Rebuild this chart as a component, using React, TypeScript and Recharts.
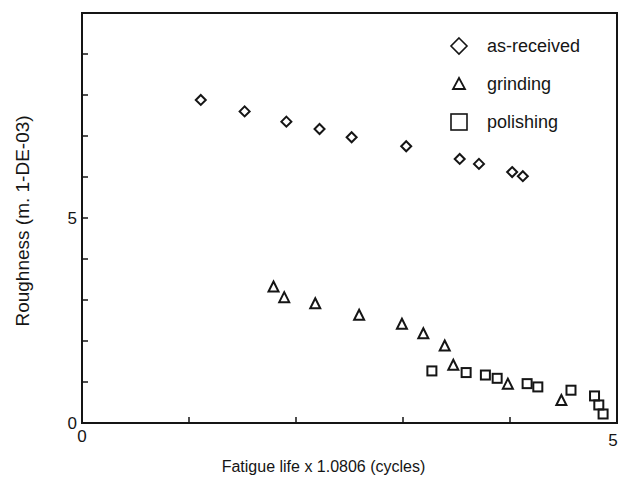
import React from "react";
import {
  ScatterChart,
  Scatter,
  XAxis,
  YAxis,
  ReferenceArea,
  Legend,
} from "recharts";

// values
const asReceivedX = [1.11, 1.52, 1.91, 2.22, 2.52, 3.03, 3.53, 3.71, 4.02, 4.12];
const asReceivedY = [7.88, 7.6, 7.35, 7.17, 6.97, 6.75, 6.44, 6.32, 6.12, 6.02];

const grindingX = [1.79, 1.89, 2.18, 2.59, 2.99, 3.19, 3.39, 3.47, 3.98, 4.48];
const grindingY = [3.33, 3.07, 2.92, 2.64, 2.42, 2.19, 1.89, 1.42, 0.96, 0.56];

const polishingX = [3.27, 3.59, 3.77, 3.88, 4.16, 4.26, 4.57, 4.79, 4.83, 4.87];
const polishingY = [1.27, 1.23, 1.17, 1.09, 0.96, 0.88, 0.8, 0.66, 0.44, 0.22];

const xTicks = [0, 1, 2, 3, 4, 5];
const yTicks = [0, 1, 2, 3, 4, 5, 6, 7, 8, 9, 10];
const labelledTicks = [0, 5];

const seriesNames = ["as-received", "grinding", "polishing"];

const toPoints = (xs: number[], ys: number[]) =>
  xs.map((x, i) => ({ x, y: ys[i] }));

const INK = "#151515";
const FONT = "'Liberation Sans', Arial, Helvetica, sans-serif";

function Diamond({ cx, cy }: any) {
  const r = 5;
  return (
    <path
      d={`M${cx},${cy - r} L${cx + r},${cy} L${cx},${cy + r} L${cx - r},${cy} Z`}
      fill="none"
      stroke={INK}
      strokeWidth={2}
    />
  );
}

function Triangle({ cx, cy }: any) {
  const r = 5;
  return (
    <path
      d={`M${cx},${cy - r} L${cx + r},${cy + r} L${cx - r},${cy + r} Z`}
      fill="none"
      stroke={INK}
      strokeWidth={2}
    />
  );
}

function Square({ cx, cy }: any) {
  const r = 4.5;
  return (
    <rect
      x={cx - r}
      y={cy - r}
      width={2 * r}
      height={2 * r}
      fill="none"
      stroke={INK}
      strokeWidth={2}
    />
  );
}

function YTick({ x, y, payload }: any) {
  const v = payload.value;
  return (
    <g>
      {v > 0 && v < 10 && (
        <line x1={x} y1={y} x2={x + 6} y2={y} stroke={INK} strokeWidth={1.5} />
      )}
      {labelledTicks.includes(v) && (
        <text
          x={x - 5}
          y={y}
          dy="0.35em"
          textAnchor="end"
          fontSize={17}
          fontFamily={FONT}
          fill={INK}
        >
          {v}
        </text>
      )}
    </g>
  );
}

function XTick({ x, y, payload }: any) {
  const v = payload.value;
  return (
    <g>
      {v > 0 && v < 5 && (
        <line x1={x} y1={y} x2={x} y2={y - 6} stroke={INK} strokeWidth={1.5} />
      )}
      {labelledTicks.includes(v) && (
        <text
          x={v === 0 ? x : x - 4}
          y={y}
          dy={v === 0 ? 19 : 23}
          textAnchor="middle"
          fontSize={17}
          fontFamily={FONT}
          fill={INK}
        >
          {v}
        </text>
      )}
    </g>
  );
}

const legendIcons = [
  <path d="M10,2 L18,10 L10,18 L2,10 Z" fill="none" stroke={INK} strokeWidth={1.6} />,
  <path d="M10,4 L16,15 L4,15 Z" fill="none" stroke={INK} strokeWidth={1.8} />,
  <rect x={2} y={2} width={16} height={16} fill="none" stroke={INK} strokeWidth={1.6} />,
];

function LegendBox() {
  return (
    <div style={{ fontFamily: FONT, fontSize: 18, color: INK }}>
      {seriesNames.map((name, i) => (
        <div
          key={name}
          style={{ display: "flex", alignItems: "center", height: 38 }}
        >
          <svg width={20} height={20} style={{ marginLeft: 4 }}>
            {legendIcons[i]}
          </svg>
          <span style={{ marginLeft: 18 }}>{name}</span>
        </div>
      ))}
    </div>
  );
}

export default function App() {
  return (
    <div style={{ position: "absolute", left: 0, top: 0, background: "#fff" }}>
      <ScatterChart
        width={627}
        height={481}
        margin={{ top: 13, right: 10, bottom: 28, left: 42 }}
      >
        <XAxis
          type="number"
          dataKey="x"
          domain={[0, 5]}
          ticks={xTicks}
          height={30}
          axisLine={false}
          tickLine={false}
          tickSize={0}
          tickMargin={0}
          tick={<XTick />}
          label={{
            value: "Fatigue life x 1.0806 (cycles)",
            position: "bottom",
            offset: 8,
            dx: -26,
            fontSize: 16,
            fontFamily: FONT,
            fill: INK,
          }}
        />
        <YAxis
          type="number"
          dataKey="y"
          domain={[0, 10]}
          ticks={yTicks}
          width={40}
          axisLine={false}
          tickLine={false}
          tickSize={0}
          tickMargin={0}
          tick={<YTick />}
          label={{
            value: "Roughness (m. 1-DE-03)",
            angle: -90,
            position: "insideLeft",
            offset: -20,
            dy: 3,
            fontSize: 19,
            fontFamily: FONT,
            fill: INK,
            style: { textAnchor: "middle" },
          }}
        />
        <ReferenceArea
          x1={0}
          x2={5}
          y1={0}
          y2={10}
          fill="none"
          stroke={INK}
          strokeWidth={2}
          ifOverflow="visible"
        />
        <Scatter
          name={seriesNames[0]}
          data={toPoints(asReceivedX, asReceivedY)}
          shape={<Diamond />}
          isAnimationActive={false}
        />
        <Scatter
          name={seriesNames[1]}
          data={toPoints(grindingX, grindingY)}
          shape={<Triangle />}
          isAnimationActive={false}
        />
        <Scatter
          name={seriesNames[2]}
          data={toPoints(polishingX, polishingY)}
          shape={<Square />}
          isAnimationActive={false}
        />
        {/* horizontal + middle + center: the legend reserves no plot space */}
        <Legend
          layout="horizontal"
          verticalAlign="middle"
          align="center"
          content={<LegendBox />}
          wrapperStyle={{ top: 27, left: 445, width: 170 }}
        />
      </ScatterChart>
    </div>
  );
}
